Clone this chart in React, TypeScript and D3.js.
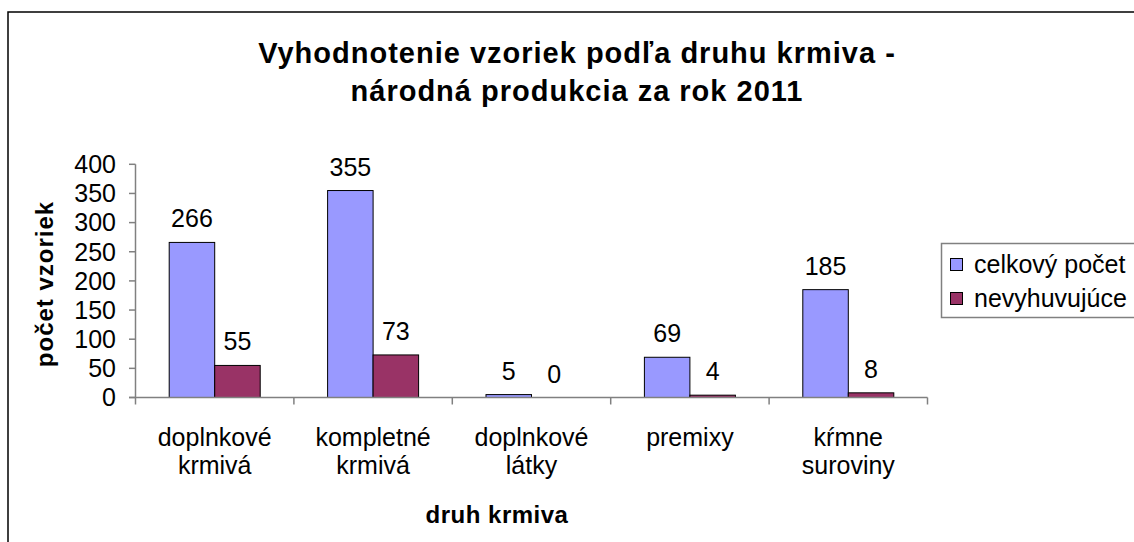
import React from "react";
import * as d3 from "d3";

const categories: string[][] = [
  ["doplnkové", "krmivá"],
  ["kompletné", "krmivá"],
  ["doplnkové", "látky"],
  ["premixy"],
  ["kŕmne", "suroviny"],
];
const seriesNames = ["celkový počet", "nevyhuvujúce"];
const celkovy = [266, 355, 5, 69, 185];
const nevyhovujuce = [55, 73, 0, 4, 8];
const yTicks = [0, 50, 100, 150, 200, 250, 300, 350, 400];
const titleLines = ["Vyhodnotenie vzoriek podľa druhu krmiva -", "národná produkcia za rok 2011"];
const colors = ["#9999FF", "#993366"];

const W = 1134;
const H = 542;
const font = "'Liberation Sans', Arial, sans-serif";

export default function App() {
  const keys = categories.map((c) => c.join(" "));
  const series = [celkovy, nevyhovujuce];
  const x = d3.scaleBand<string>().domain(keys).range([135.5, 927.5]).paddingInner(0.4255).paddingOuter(0.21275);
  const xs = d3.scaleBand<number>().domain([0, 1]).range([0, x.bandwidth()]);
  const y = d3.scaleLinear().domain([0, 400]).range([397.5, 164.3]);
  const step = x.step();
  const boundaries = d3.range(keys.length + 1).map((i) => 135.5 + i * step);

  return (
    <svg width={W} height={H} style={{ position: "absolute", left: 0, top: 0, background: "#fff" }} fontFamily={font}>
      <rect x={0} y={0} width={W} height={H} fill="#fff" />
      <rect x={8} y={12} width={W + 20} height={H + 20} fill="none" stroke="#000" strokeWidth={1.5} />
      {titleLines.map((t, i) => (
        <text key={i} x={577} y={63 + i * 38} textAnchor="middle" fontSize={29} fontWeight="bold" letterSpacing={1}>
          {t}
        </text>
      ))}
      {/* bars */}
      {keys.map((k, ci) =>
        series.map((s, si) => {
          const v = s[ci];
          const bx = (x(k) as number) + (xs(si) as number);
          const by = y(v);
          return (
            <g key={k + si}>
              {v > 0 && (
                <rect x={bx} y={by} width={xs.bandwidth()} height={y(0) - by} fill={colors[si]} stroke="#000" strokeWidth={1} />
              )}
              <text x={bx + xs.bandwidth() / 2} y={by - 15} textAnchor="middle" fontSize={25}>
                {v}
              </text>
            </g>
          );
        })
      )}
      {/* y axis */}
      <line x1={135.5} x2={135.5} y1={y(400)} y2={y(0)} stroke="#808080" strokeWidth={1.5} />
      {yTicks.map((t) => (
        <g key={t}>
          <line x1={129} x2={135.5} y1={y(t)} y2={y(t)} stroke="#808080" strokeWidth={1.5} />
          <text x={116} y={y(t)} dy="0.35em" textAnchor="end" fontSize={25}>
            {t}
          </text>
        </g>
      ))}
      {/* x axis */}
      <line x1={129} x2={927.5} y1={y(0)} y2={y(0)} stroke="#808080" strokeWidth={1.5} />
      {boundaries.map((b, i) => (
        <line key={i} x1={b} x2={b} y1={y(0)} y2={y(0) + 7} stroke="#808080" strokeWidth={1.5} />
      ))}
      {categories.map((c, ci) => (
        <text key={ci} x={(x(keys[ci]) as number) + x.bandwidth() / 2} y={446} textAnchor="middle" fontSize={25}>
          {c.map((l, li) => (
            <tspan key={li} x={(x(keys[ci]) as number) + x.bandwidth() / 2} dy={li === 0 ? 0 : 28}>
              {l}
            </tspan>
          ))}
        </text>
      ))}
      <text x={497} y={523} textAnchor="middle" fontSize={24} fontWeight="bold" letterSpacing={0.5}>
        druh krmiva
      </text>
      <text transform="translate(53,284) rotate(-90)" textAnchor="middle" fontSize={24} fontWeight="bold" letterSpacing={1}>
        počet vzoriek
      </text>
      {/* legend */}
      <rect x={941.5} y={243.5} width={220} height={74} fill="#fff" stroke="#808080" strokeWidth={1.5} />
      {seriesNames.map((n, i) => (
        <g key={n}>
          <rect x={950.5} y={258.5 + i * 34} width={12} height={12} fill={colors[i]} stroke="#000" strokeWidth={1} />
          <text x={974} y={264.5 + i * 34} dy="0.35em" fontSize={25}>
            {n}
          </text>
        </g>
      ))}
    </svg>
  );
}
